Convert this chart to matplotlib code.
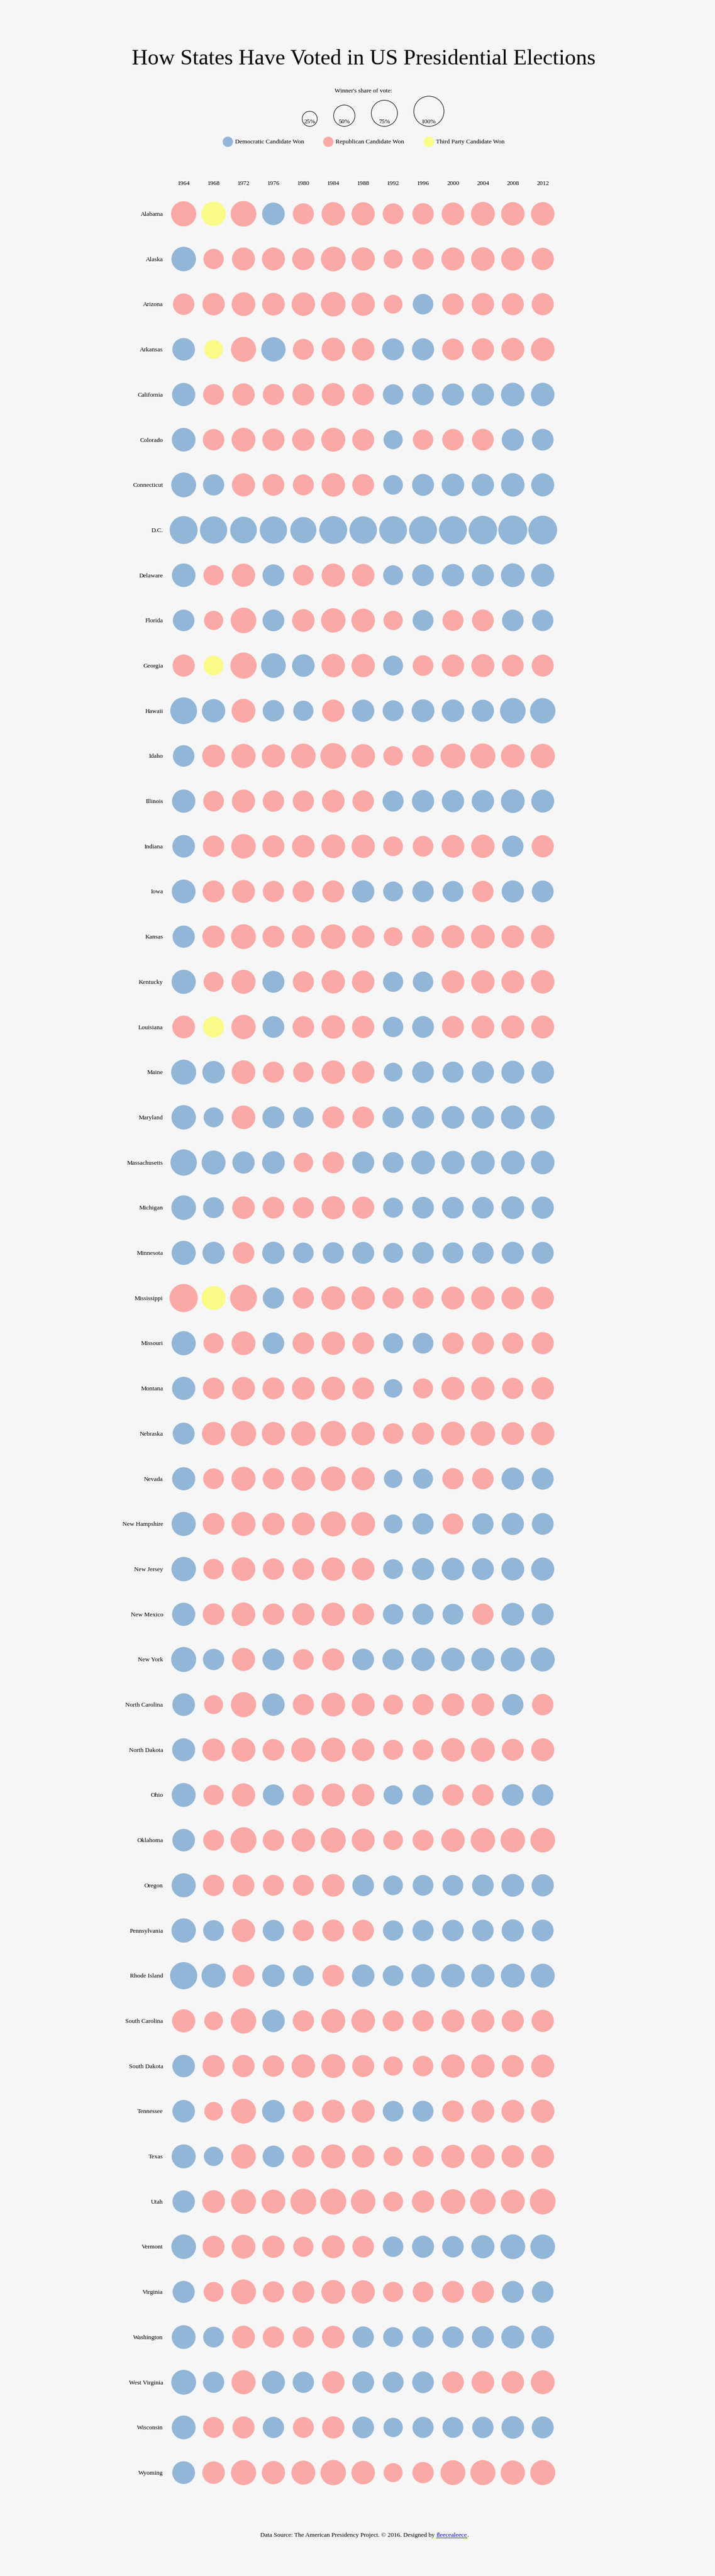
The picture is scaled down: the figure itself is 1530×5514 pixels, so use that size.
import matplotlib
matplotlib.use('Agg')
import matplotlib.pyplot as plt

# ---- data -------------------------------------------------------------
years = [1964, 1968, 1972, 1976, 1980, 1984, 1988, 1992, 1996, 2000, 2004, 2008, 2012]

states = ['Alabama', 'Alaska', 'Arizona', 'Arkansas', 'California', 'Colorado',
          'Connecticut', 'D.C.', 'Delaware', 'Florida', 'Georgia', 'Hawaii',
          'Idaho', 'Illinois', 'Indiana', 'Iowa', 'Kansas', 'Kentucky',
          'Louisiana', 'Maine', 'Maryland', 'Massachusetts', 'Michigan',
          'Minnesota', 'Mississippi', 'Missouri', 'Montana', 'Nebraska',
          'Nevada', 'New Hampshire', 'New Jersey', 'New Mexico', 'New York',
          'North Carolina', 'North Dakota', 'Ohio', 'Oklahoma', 'Oregon',
          'Pennsylvania', 'Rhode Island', 'South Carolina', 'South Dakota',
          'Tennessee', 'Texas', 'Utah', 'Vermont', 'Virginia', 'Washington',
          'West Virginia', 'Wisconsin', 'Wyoming']

# winning party per state (D / R / I = third party), one letter per state, groups of 10
party_1964 = 'RDRDDDDDDD RDDDDDDDRD DDDDRDDDDD DDDDDDDDDD RDDDDDDDDD D'
party_1968 = 'IRRIRRDDRR IDRRRRRRID DDDDIRRRRR RRDRRRRRDD RRRDRRRDDR R'
party_1972 = 'RRRRRRRDRR RRRRRRRRRR RDRRRRRRRR RRRRRRRRRR RRRRRRRRRR R'
party_1976 = 'DRRDRRRDDD DDRRRRRDDR DDRDDDRRRR RRDDRDRRDD DRDDRRRRDD R'
party_1980 = 'RRRRRRRDRR DDRRRRRRRR DRRDRRRRRR RRRRRRRRRD RRRRRRRRDR R'
party_1984 = 'RRRRRRRDRR RRRRRRRRRR RRRDRRRRRR RRRRRRRRRR RRRRRRRRRR R'
party_1988 = 'RRRRRRRDRR RDRRRDRRRR RDRDRRRRRR RRDRRRRDRD RRRRRRRDDD R'
party_1992 = 'RRRDDDDDDR DDRDRDRDDD DDDDRDDRDD DDDRRDRDDD RRDRRDRDDD R'
party_1996 = 'RRDDDRDDDD RDRDRDRDDD DDDDRDRRDD DDDRRDRDDD RRDRRDRDDD R'
party_2000 = 'RRRRDRDDDR RDRDRDRRRD DDDDRRRRRR DDDRRRRDDD RRRRRDRDRD R'
party_2004 = 'RRRRDRDDDR RDRDRRRRRD DDDDRRRRRD DRDRRRRDDD RRRRRDRDRD R'
party_2008 = 'RRRRDDDDDD RDRDDDRRRD DDDDRRRRDD DDDDRDRDDD RRRRRDDDRD R'
party_2012 = 'RRRRDDDDDD RDRDRDRRRD DDDDRRRRDD DDDRRDRDDD RRRRRDDDRD R'

# winner's share of the state's vote, %
share_1964 = [69.5, 65.9, 50.4, 56.1, 59.1, 61.3, 67.8, 85.5, 60.9, 51.1,
              54.1, 78.8, 50.9, 59.5, 56.0, 61.9, 54.1, 64.0, 56.8, 68.8,
              65.5, 76.2, 66.7, 63.8, 87.1, 64.1, 59.0, 52.6, 58.6, 63.9,
              65.6, 59.0, 68.6, 56.2, 58.0, 62.9, 55.8, 63.7, 64.9, 80.9,
              58.9, 55.6, 55.5, 63.3, 54.9, 66.3, 53.5, 62.0, 67.9, 62.1, 56.6]
share_1968 = [65.9, 45.3, 54.8, 38.9, 47.8, 50.5, 49.5, 81.8, 45.1, 40.5,
              42.8, 59.8, 56.8, 47.1, 50.3, 53.0, 54.8, 43.8, 48.3, 55.3,
              43.6, 63.0, 48.2, 54.0, 63.5, 44.9, 50.6, 59.8, 47.5, 52.1,
              46.1, 51.8, 49.8, 39.5, 55.9, 45.2, 47.7, 49.8, 47.6, 64.0,
              38.1, 53.3, 37.8, 41.1, 56.5, 52.8, 43.4, 47.2, 49.6, 47.9, 55.8]
share_1972 = [72.4, 58.1, 61.6, 68.9, 55.0, 62.6, 58.6, 78.1, 59.6, 71.9,
              75.0, 62.5, 64.2, 59.0, 66.1, 57.6, 67.7, 63.4, 65.3, 61.5,
              61.3, 54.2, 56.2, 51.6, 78.2, 62.3, 57.9, 70.5, 63.7, 64.0,
              61.6, 61.0, 58.5, 69.5, 62.1, 59.6, 73.7, 52.5, 59.1, 53.0,
              70.6, 54.2, 67.7, 66.2, 67.6, 62.7, 67.8, 56.9, 63.6, 53.4, 69.0]
share_1976 = [55.7, 57.9, 56.4, 65.0, 49.3, 54.0, 52.1, 81.6, 52.0, 51.9,
              66.7, 50.6, 59.3, 50.1, 53.3, 49.5, 52.5, 52.8, 51.7, 48.9,
              53.0, 56.1, 51.8, 54.9, 49.6, 51.1, 52.8, 59.2, 50.2, 54.7,
              50.1, 50.5, 51.9, 55.2, 51.6, 48.9, 50.0, 47.8, 50.4, 55.4,
              56.2, 50.4, 55.9, 51.1, 62.4, 54.4, 49.3, 50.0, 58.0, 49.5, 59.3]
share_1980 = [48.8, 54.4, 60.6, 48.1, 52.7, 55.1, 48.2, 74.8, 47.2, 55.5,
              55.8, 44.8, 66.5, 49.7, 56.0, 51.3, 57.9, 49.1, 51.2, 45.6,
              47.1, 41.9, 49.0, 46.5, 49.4, 51.2, 56.8, 65.5, 62.5, 57.7,
              52.0, 54.9, 46.7, 49.3, 64.2, 51.5, 60.5, 48.3, 49.6, 47.7,
              49.6, 60.5, 48.7, 55.3, 72.8, 44.4, 53.0, 49.7, 49.8, 47.9, 62.6]
share_1984 = [60.5, 66.7, 66.4, 60.5, 57.5, 63.4, 60.7, 85.4, 59.8, 65.3,
              60.2, 55.1, 72.4, 56.2, 61.7, 53.3, 66.3, 60.0, 60.8, 60.8,
              52.5, 51.2, 59.2, 49.7, 61.9, 60.0, 60.5, 70.6, 65.9, 68.7,
              60.1, 59.7, 53.8, 61.9, 64.8, 58.9, 68.6, 55.9, 53.3, 51.7,
              63.6, 63.0, 57.8, 63.6, 74.5, 57.9, 62.3, 55.8, 55.1, 54.2, 70.5]
share_1988 = [59.2, 59.6, 60.0, 56.4, 51.1, 53.1, 52.0, 82.7, 55.9, 60.9,
              59.8, 54.3, 62.1, 50.7, 59.8, 54.7, 55.8, 55.5, 54.3, 55.3,
              51.1, 53.2, 53.6, 52.9, 59.9, 51.8, 52.1, 60.2, 58.9, 62.5,
              56.2, 51.9, 51.6, 58.0, 56.0, 55.0, 57.9, 51.3, 50.7, 55.6,
              61.5, 52.9, 57.9, 56.0, 66.2, 51.1, 59.7, 50.1, 52.2, 51.4, 60.5]
share_1992 = [47.6, 39.5, 38.5, 53.2, 46.0, 40.1, 42.2, 84.6, 43.5, 40.9,
              43.5, 48.1, 42.0, 48.6, 42.9, 43.3, 38.9, 44.6, 45.6, 38.8,
              49.8, 47.5, 43.8, 43.5, 49.7, 44.1, 37.6, 46.6, 37.4, 38.9,
              43.0, 45.9, 49.7, 43.4, 44.2, 40.2, 42.7, 42.5, 45.1, 47.0,
              48.0, 40.7, 47.1, 40.6, 43.4, 46.1, 45.0, 43.4, 48.4, 41.1, 39.7]
share_1996 = [50.1, 50.8, 46.5, 53.7, 51.1, 45.8, 52.8, 85.2, 51.8, 48.0,
              47.0, 56.9, 52.2, 54.3, 47.1, 50.3, 54.3, 45.8, 52.0, 51.6,
              54.3, 61.5, 51.7, 51.1, 49.2, 47.5, 44.1, 53.7, 43.9, 49.3,
              53.7, 49.2, 59.5, 48.7, 46.9, 47.4, 48.3, 47.2, 49.2, 59.7,
              49.8, 46.5, 48.0, 48.8, 54.4, 53.4, 47.1, 49.8, 51.5, 48.8, 49.8]
share_2000 = [56.5, 58.6, 51.0, 51.3, 53.4, 50.8, 55.9, 85.2, 55.0, 48.8,
              54.7, 55.8, 67.2, 54.6, 56.7, 48.5, 58.0, 56.5, 52.6, 49.1,
              56.6, 59.8, 51.3, 47.9, 57.6, 50.4, 58.4, 62.2, 49.5, 48.1,
              56.1, 47.9, 60.2, 56.0, 60.7, 50.0, 60.3, 47.0, 50.6, 61.0,
              56.8, 60.3, 51.2, 59.3, 66.8, 50.6, 52.5, 50.2, 51.9, 47.8, 67.8]
share_2004 = [62.5, 61.1, 54.9, 54.3, 54.3, 51.7, 54.3, 89.2, 53.3, 52.1,
              58.0, 54.0, 68.4, 54.8, 59.9, 49.9, 62.0, 59.6, 56.7, 53.6,
              55.9, 61.9, 51.2, 51.1, 59.5, 53.3, 59.1, 65.9, 50.5, 50.2,
              52.9, 49.8, 58.4, 56.0, 62.9, 50.8, 65.6, 51.4, 50.9, 59.4,
              58.0, 59.9, 56.8, 61.1, 71.5, 58.9, 53.7, 52.8, 56.1, 49.7, 68.9]
share_2008 = [60.3, 59.4, 53.6, 58.7, 61.0, 53.7, 60.6, 92.5, 61.9, 51.0,
              52.2, 71.8, 61.5, 61.9, 49.9, 53.9, 56.6, 57.4, 58.6, 57.7,
              61.9, 61.8, 57.4, 54.1, 56.2, 49.4, 49.5, 56.5, 55.2, 54.1,
              57.3, 56.9, 62.9, 49.7, 53.3, 51.5, 65.6, 56.8, 54.5, 62.9,
              53.9, 53.2, 56.9, 55.5, 62.6, 67.5, 52.6, 57.7, 55.7, 56.2, 64.8]
share_2012 = [60.5, 54.8, 53.7, 60.6, 60.2, 51.5, 58.1, 90.9, 58.6, 50.0,
              53.3, 70.6, 64.5, 57.6, 54.1, 52.0, 59.7, 60.5, 57.8, 56.3,
              62.0, 60.7, 54.2, 52.7, 55.3, 53.8, 55.4, 59.8, 52.4, 52.0,
              58.4, 53.0, 63.4, 50.4, 58.3, 50.7, 66.8, 54.2, 52.0, 62.7,
              54.6, 57.9, 59.5, 57.2, 72.8, 66.6, 51.2, 56.2, 62.3, 52.8, 68.6]

parties = [party_1964, party_1968, party_1972, party_1976, party_1980, party_1984,
           party_1988, party_1992, party_1996, party_2000, party_2004, party_2008,
           party_2012]
shares = [share_1964, share_1968, share_1972, share_1976, share_1980, share_1984,
          share_1988, share_1992, share_1996, share_2000, share_2004, share_2008,
          share_2012]

legend_shares = [25, 50, 75, 100]
legend_labels = ['Democratic Candidate Won', 'Republican Candidate Won',
                 'Third Party Candidate Won']

# ---- style ------------------------------------------------------------
W, H, DPI = 1530, 5514, 100
BG = '#f6f6f6'
COLORS = {'D': '#92b6d8', 'R': '#fba9a6', 'I': '#fafa87'}
R_MAX = 32.3          # circle radius in px for a 100% share
FS = 9.6              # body text size, pt

plt.rcParams['font.family'] = ['Liberation Serif', 'DejaVu Serif']


def area(pct):
    # scatter area (pt^2) so that radius grows with sqrt(share)
    return (2 * R_MAX * 72 / DPI) ** 2 * pct / 100.0


def px_radius(pct):
    return R_MAX * (pct / 100.0) ** 0.5


fig = plt.figure(figsize=(W / DPI, H / DPI), dpi=DPI, facecolor=BG)

# page layer in pixel coordinates: title, legends, footer
ax0 = fig.add_axes([0, 0, 1, 1])
ax0.set_xlim(0, W)
ax0.set_ylim(H, 0)
ax0.axis('off')

ax0.text(778, 137.7, 'How States Have Voted in US Presidential Elections',
         ha='center', va='baseline', fontsize=34)
ax0.text(777.6, 198.3, "Winner's share of vote:", ha='center', va='baseline', fontsize=FS)

# size legend, circles sitting on a common bottom line
x = 662.7
prev_r = None
for pct in legend_shares:
    r = px_radius(pct)
    if prev_r is not None:
        x += prev_r + r + 35
    ax0.scatter([x], [270.5 - r], s=area(pct), facecolors='none',
                edgecolors='black', linewidths=0.8)
    ax0.text(x, 264, f'{pct}%', ha='center', va='baseline', fontsize=FS)
    prev_r = r

# colour legend
for key, label, lx in zip(['D', 'R', 'I'], legend_labels, [486.8, 702.3, 917.1]):
    ax0.scatter([lx], [303.3], s=(22 * 72 / DPI) ** 2, color=COLORS[key], linewidths=0)
    ax0.text(lx + 15.9, 306.7, label, ha='left', va='baseline', fontsize=FS)

# footer with link
t1 = ax0.text(556.6, 5430, 'Data Source: The American Presidency Project. \u00a9 2016. Designed by ',
              ha='left', va='baseline', fontsize=FS)
t2 = ax0.annotate('fleecealeece', xy=(1, 0), xycoords=t1, ha='left', va='bottom',
                  fontsize=FS, color='#0000ee')
t3 = ax0.annotate('.', xy=(1, 0), xycoords=t2, ha='left', va='bottom', fontsize=FS)

# ---- circle grid ------------------------------------------------------
col0, col_step = 393.0, 64.03
row0, row_step = 457.7, 96.7
left = col0 - 0.5 * col_step
top = row0 - 0.5 * row_step
gw = len(years) * col_step
gh = len(states) * row_step
ax = fig.add_axes([left / W, 1 - (top + gh) / H, gw / W, gh / H])
ax.set_facecolor('none')
ax.set_xlim(-0.5, len(years) - 0.5)
ax.set_ylim(len(states) - 0.5, -0.5)
for sp in ax.spines.values():
    sp.set_visible(False)
ax.set_xticks([])
ax.set_yticks([])

for j, (pstr, vals) in enumerate(zip(parties, shares)):
    p = pstr.replace(' ', '')
    assert len(p) == len(states) and len(vals) == len(states)
    ax.scatter([j] * len(states), range(len(states)), s=[area(v) for v in vals],
               c=[COLORS[c] for c in p], linewidths=0, clip_on=False)

for j, yr in enumerate(years):
    ax.text(j, (396 - row0) / row_step, str(yr), ha='center', va='baseline',
            fontsize=FS, clip_on=False)
for i, st in enumerate(states):
    ax.text((349 - col0) / col_step, i + 4.3 / row_step, st, ha='right',
            va='baseline', fontsize=FS, clip_on=False)

# underline the link
fig.canvas.draw()
bb = t2.get_window_extent()
inv = ax0.transData.inverted()
(ux0, uy0), (ux1, _) = inv.transform([(bb.x0, bb.y0), (bb.x1, bb.y0)])
ax0.plot([ux0, ux1], [5432, 5432], color='#0000ee', linewidth=0.7)

fig.savefig('out.png', dpi=DPI, facecolor=BG)
